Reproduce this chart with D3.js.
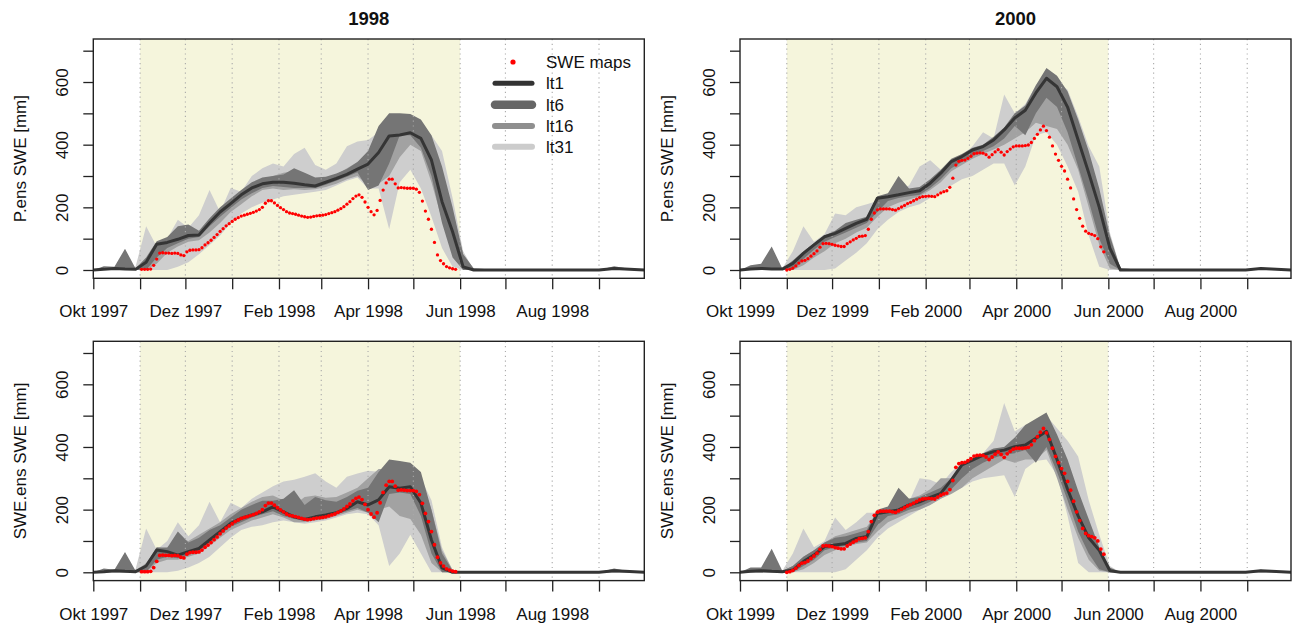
<!DOCTYPE html>
<html><head><meta charset="utf-8">
<script src="https://cdn.jsdelivr.net/npm/d3@7"></script>
<style>
body{margin:0;background:#fff;}
svg{display:block;}
text{font-family:"Liberation Sans",Arial,Helvetica,sans-serif;fill:#111;}
</style></head>
<body><svg id="chart" width="1293" height="625"></svg>
<script>
// ---------------- data ----------------
const yearTitles = ["1998", "2000"];
const seasonStart = ["1997-10-01", "1999-10-01"];
const seasonEnd = ["1998-10-01", "2000-09-30"];
const shadeStart = ["1997-11-01", "1999-11-01"];
const shadeEnd = ["1998-06-01", "2000-06-01"];
const monthNames = ["Jan","Feb","Mär","Apr","Mai","Jun","Jul","Aug","Sep","Okt","Nov","Dez"];
const yTicks = [0,100,200,300,400,500,600,700];
const yTickLabels = [0,200,400,600];
const rowLabels = ["P.ens SWE [mm]", "SWE.ens SWE [mm]"];
const legendLabels = ["SWE maps", "lt1", "lt6", "lt16", "lt31"];

// ensemble days after season start (1 Oct)
const ensDays = [0,7,14,21,28,35,42,49,56,63,70,77,84,91,98,105,112,119,126,133,140,147,154,161,168,175,182,189,196,203,210,217,224,231,238,245,252,273,304,335,345,352,365];

// P.ens 1998
const pens1998_lt1   = [0,2,5,3,2,25,82,88,98,110,112,150,185,212,240,262,275,280,280,277,272,268,280,292,305,322,338,375,428,431,438,420,351,218,122,10,0,0,0,0,5,3,0];
const pens1998_lt6hi = [0,12,10,68,5,40,92,105,140,145,125,165,200,228,255,280,295,300,305,325,310,295,298,308,322,345,380,460,500,500,498,480,430,330,200,50,5,0,0,0,12,6,0];
const pens1998_lt6lo = [0,0,0,0,0,0,40,70,85,100,105,140,170,198,225,245,262,268,265,262,262,262,272,285,298,312,255,270,340,430,430,390,300,150,40,0,0,0,0,0,0,0,0];
const pens1998_lt16hi= [0,5,5,20,5,30,85,100,125,130,120,160,195,225,250,272,290,300,310,315,300,290,295,305,325,345,370,430,470,465,470,460,420,320,190,50,5,0,0,0,6,3,0];
const pens1998_lt16lo= [0,0,0,0,0,0,20,55,75,90,95,120,150,185,210,235,255,260,255,258,255,258,265,275,290,300,270,275,300,360,400,380,280,160,60,0,0,0,0,0,0,0,0];
const pens1998_lt31hi= [0,5,8,15,10,140,75,100,160,135,175,255,185,262,250,300,325,340,330,370,390,335,320,340,395,410,415,440,460,465,470,465,430,380,230,60,0,0,0,0,3,2,0];
const pens1998_lt31lo= [0,0,0,0,0,0,0,0,10,25,50,80,110,150,180,200,215,225,235,240,245,250,255,270,285,295,260,260,130,280,320,260,170,70,10,0,0,0,0,0,0,0,0];

// SWE.ens 1998
const swe1998_lt1    = [0,2,5,3,2,20,71,66,55,66,76,103,130,156,172,183,193,209,193,177,169,177,183,190,204,225,215,231,273,268,273,221,103,14,0,0,0,0,0,0,5,3,0];
const swe1998_lt6hi  = [0,12,8,65,5,25,80,78,130,95,110,135,150,175,200,215,228,228,235,262,215,240,230,225,240,260,270,320,360,355,350,320,200,60,5,0,0,0,0,0,12,6,0];
const swe1998_lt6lo  = [0,0,0,0,0,0,40,50,45,55,70,95,120,145,160,175,185,195,180,170,165,170,178,185,195,205,190,160,250,255,250,180,60,0,0,0,0,0,0,0,0,0,0];
const swe1998_lt16hi = [0,5,5,15,5,30,75,80,110,100,120,140,160,185,205,225,240,245,230,215,240,245,238,240,255,270,300,330,330,320,325,300,200,70,8,0,0,0,0,0,6,3,0];
const swe1998_lt16lo = [0,0,0,0,0,0,30,40,40,50,60,85,110,135,150,165,175,185,175,160,160,165,170,180,190,200,190,200,210,180,170,120,30,0,0,0,0,0,0,0,0,0,0];
const swe1998_lt31hi = [0,5,8,15,10,140,72,100,160,115,150,225,160,222,205,235,255,275,290,295,305,316,290,270,305,315,324,321,300,300,320,300,230,80,5,0,0,0,0,0,3,2,0];
const swe1998_lt31lo = [0,0,0,0,0,0,0,0,5,15,30,50,80,110,135,145,150,160,165,160,155,160,165,175,185,190,185,150,20,60,120,60,0,0,0,0,0,0,0,0,0,0,0];

// P.ens 2000
const pens2000_lt1   = [0,3,5,3,3,21,53,80,106,117,133,149,162,229,234,240,247,253,277,309,346,362,383,394,415,447,485,510,565,612,585,520,415,310,200,70,0,0,0,0,5,3,0];
const pens2000_lt6hi = [0,15,20,75,5,30,60,85,110,125,150,160,170,235,245,300,260,265,290,320,355,370,390,400,425,455,500,525,590,645,620,570,480,380,260,110,5,0,0,0,8,5,0];
const pens2000_lt6lo = [0,0,0,0,0,0,35,65,90,105,120,135,150,185,220,230,235,240,262,290,325,345,365,380,395,420,460,430,500,550,520,440,330,220,100,20,0,0,0,0,0,0,0];
const pens2000_lt16hi= [0,8,5,20,5,25,55,80,105,120,140,155,165,225,240,255,255,262,285,315,350,365,385,398,420,445,480,500,540,600,600,560,470,370,250,100,5,0,0,0,5,3,0];
const pens2000_lt16lo= [0,0,0,0,0,0,15,40,60,85,100,120,135,170,200,215,225,235,255,280,315,335,355,370,385,400,420,440,470,460,450,400,320,200,80,5,0,0,0,0,0,0,0];
const pens2000_lt31hi= [0,10,5,10,5,60,140,90,115,180,175,200,210,220,245,255,270,330,350,320,340,365,395,440,420,560,500,530,590,630,600,575,490,395,330,120,5,0,0,0,3,2,0];
const pens2000_lt31lo= [0,0,0,0,0,0,0,0,0,5,30,55,85,130,160,185,200,210,230,250,270,290,300,320,340,340,270,330,430,440,400,330,250,110,10,0,0,0,0,0,0,0,0];

// SWE.ens 2000
const swe2000_lt1    = [0,3,5,3,2,7,34,55,82,87,92,108,114,188,193,199,215,225,239,252,295,343,358,374,385,390,401,406,428,450,360,265,180,110,70,5,0,0,0,0,5,3,0];
const swe2000_lt6hi  = [0,15,15,75,5,20,50,70,95,110,115,125,135,200,210,270,235,240,255,270,300,345,365,380,395,400,430,470,490,510,440,360,260,170,80,15,0,0,0,0,8,4,0];
const swe2000_lt6lo  = [0,0,0,0,0,0,20,40,70,80,85,95,100,150,180,185,200,210,225,240,265,300,330,350,365,375,380,390,350,400,320,230,130,60,10,0,0,0,0,0,0,0,0];
const swe2000_lt16hi = [0,5,5,15,5,20,50,70,95,115,125,135,145,190,205,225,235,245,265,300,300,330,355,375,390,400,420,460,460,470,400,330,240,150,70,10,0,0,0,0,5,3,0];
const swe2000_lt16lo = [0,0,0,0,0,0,10,30,55,70,80,90,95,130,160,175,190,200,215,235,250,270,300,320,340,360,350,360,360,390,300,200,110,40,5,0,0,0,0,0,0,0,0];
const swe2000_lt31hi = [0,10,5,10,5,60,140,80,100,175,135,160,190,190,190,200,225,300,295,280,320,350,340,380,420,540,450,470,480,500,460,420,370,230,120,20,0,0,0,0,3,2,0];
const swe2000_lt31lo = [0,0,0,0,0,0,0,0,0,0,10,40,70,110,140,160,180,200,215,235,255,270,290,300,305,310,240,330,355,360,310,180,30,0,0,0,0,0,0,0,0,0,0];

// SWE maps (observed), every 2nd day from start day
const sweMapsStartDay = [32, 31];
const sweMapsStep = 2;
const sweMaps1998 = [2,2,2,3,15,35,54,55,54,54,53,54,53,48,46,58,63,64,64,65,71,80,87,95,104,113,123,132,141,148,155,162,167,172,175,178,181,184,188,193,200,213,221,221,214,206,199,193,186,182,180,178,175,172,170,168,169,171,173,174,175,177,180,183,186,191,196,202,210,218,228,236,240,232,217,200,186,176,190,222,255,278,290,290,275,262,263,262,261,261,261,258,248,220,188,162,130,88,48,30,20,11,7,4,2];
const sweMaps2000 = [0,2,6,13,22,29,31,36,44,52,61,73,84,85,84,82,79,77,75,75,84,90,96,101,107,108,110,130,162,182,192,195,195,195,195,193,191,196,201,206,212,216,221,226,231,234,235,236,235,234,240,246,250,253,264,293,335,347,350,351,356,363,371,373,374,373,368,360,368,377,384,376,367,378,386,393,396,396,396,397,399,407,420,433,447,459,445,424,396,370,350,331,316,290,262,227,193,165,140,124,117,114,110,100,74,58];

// ---------------- layout ----------------
const colX = [[93.3, 644.3], [740, 1291]];
const rowY = [[39, 278.3], [341.3, 580.6]];
const yDom = [-26.5, 737.3];
const bandFill = {lt31: "#cecece", lt16: "#a2a2a2", lt6: "#757575"};
const lt1Color = "#353535";

const panels = [
  {row:0, col:0, lt1:pens1998_lt1, lt6:[pens1998_lt6lo,pens1998_lt6hi], lt16:[pens1998_lt16lo,pens1998_lt16hi], lt31:[pens1998_lt31lo,pens1998_lt31hi], obs:sweMaps1998, r:1.65},
  {row:0, col:1, lt1:pens2000_lt1, lt6:[pens2000_lt6lo,pens2000_lt6hi], lt16:[pens2000_lt16lo,pens2000_lt16hi], lt31:[pens2000_lt31lo,pens2000_lt31hi], obs:sweMaps2000, r:1.65},
  {row:1, col:0, lt1:swe1998_lt1, lt6:[swe1998_lt6lo,swe1998_lt6hi], lt16:[swe1998_lt16lo,swe1998_lt16hi], lt31:[swe1998_lt31lo,swe1998_lt31hi], obs:sweMaps1998, r:1.9},
  {row:1, col:1, lt1:swe2000_lt1, lt6:[swe2000_lt6lo,swe2000_lt6hi], lt16:[swe2000_lt16lo,swe2000_lt16hi], lt31:[swe2000_lt31lo,swe2000_lt31hi], obs:sweMaps2000, r:1.9}
];

const svg = d3.select("#chart");
const utc = s => new Date(s + "T00:00:00Z");
const defs = svg.append("defs");

panels.forEach((p, k) => {
  const [x0, x1] = colX[p.col];
  const [yt, yb] = rowY[p.row];
  const start = utc(seasonStart[p.col]), end = utc(seasonEnd[p.col]);
  const x = d3.scaleUtc().domain([start, end]).range([x0, x1]);
  const y = d3.scaleLinear().domain(yDom).range([yb, yt]);

  const clipId = "clip" + k;
  defs.append("clipPath").attr("id", clipId).append("rect")
    .attr("x", x0).attr("y", yt).attr("width", x1 - x0).attr("height", yb - yt);

  const g = svg.append("g");
  const pg = g.append("g").attr("clip-path", `url(#${clipId})`);

  // melt season shading
  const s0 = x(utc(shadeStart[p.col])), s1 = x(utc(shadeEnd[p.col]));
  pg.append("rect").attr("x", s0).attr("y", yt).attr("width", s1 - s0).attr("height", yb - yt)
    .attr("fill", "#f5f5dc");

  const dates = ensDays.map(d => d3.utcDay.offset(start, d));
  const band = (lo, hi) => d3.area()
    .x((_, i) => x(dates[i])).y0((_, i) => y(lo[i])).y1((_, i) => y(hi[i]));

  [["lt31", p.lt31], ["lt16", p.lt16], ["lt6", p.lt6]].forEach(([name, [lo, hi]]) => {
    pg.append("path").datum(lo).attr("d", band(lo, hi)).attr("fill", bandFill[name]);
  });

  // dotted month grid
  const months = d3.utcMonth.range(start, end);
  months.slice(1).forEach(m => {
    pg.append("line").attr("x1", x(m)).attr("x2", x(m)).attr("y1", yt).attr("y2", yb)
      .attr("stroke", "#a9a9a9").attr("stroke-width", 1.1).attr("stroke-dasharray", "1.2,3.6");
  });

  // lt1 line
  pg.append("path").datum(p.lt1)
    .attr("d", d3.line().x((_, i) => x(dates[i])).y(v => y(v)))
    .attr("fill", "none").attr("stroke", lt1Color).attr("stroke-width", 3)
    .attr("stroke-linejoin", "round").attr("stroke-linecap", "round");

  // SWE maps points
  const obsStart = sweMapsStartDay[p.col];
  pg.selectAll("circle.obs").data(p.obs).enter().append("circle")
    .attr("cx", (_, i) => x(d3.utcDay.offset(start, obsStart + i * sweMapsStep)))
    .attr("cy", v => y(v)).attr("r", p.r).attr("fill", "#ff0000");

  // box
  g.append("rect").attr("x", x0).attr("y", yt).attr("width", x1 - x0).attr("height", yb - yt)
    .attr("fill", "none").attr("stroke", "#222").attr("stroke-width", 1.4);

  // x axis
  const xa = g.append("g").attr("transform", `translate(0,${yb})`)
    .call(d3.axisBottom(x).tickValues(months).tickSize(11).tickSizeOuter(0)
      .tickFormat((d, i) => i % 2 === 0 ? monthNames[d.getUTCMonth()] + " " + d.getUTCFullYear() : ""));
  xa.select(".domain").remove();
  xa.selectAll(".tick line").attr("stroke", "#222").attr("stroke-width", 1.3);
  xa.selectAll(".tick text").attr("y", 27).attr("font-size", 17)
    .attr("font-family", '"Liberation Sans",Arial,sans-serif').attr("fill", "#111");

  // y axis
  const ya = g.append("g").attr("transform", `translate(${x0},0)`)
    .call(d3.axisLeft(y).tickValues(yTicks).tickSize(10).tickSizeOuter(0)
      .tickFormat(d => yTickLabels.includes(d) ? String(d) : ""));
  ya.select(".domain").remove();
  ya.selectAll(".tick line").attr("stroke", "#222").attr("stroke-width", 1.3);
  ya.selectAll(".tick text").attr("x", null).attr("dy", "0.35em")
    .attr("transform", "translate(-31,0) rotate(-90)").attr("text-anchor", "middle")
    .attr("font-size", 17).attr("font-family", '"Liberation Sans",Arial,sans-serif').attr("fill", "#111");

  // row label
  const labelX = p.col === 0 ? 20 : x0 - 73;
  svg.append("text").attr("transform", `translate(${labelX},${(yt + yb) / 2}) rotate(-90)`)
    .attr("dy", "0.35em").attr("text-anchor", "middle").attr("font-size", 17)
    .text(rowLabels[p.row]);

  // title
  if (p.row === 0) {
    svg.append("text").attr("x", (x0 + x1) / 2).attr("y", 25).attr("text-anchor", "middle")
      .attr("font-size", 18.5).attr("font-weight", "bold").text(yearTitles[p.col]);
  }
});

// legend (top-left panel)
const lg = svg.append("g");
lg.append("circle").attr("cx", 513).attr("cy", 62).attr("r", 2.6).attr("fill", "#ff0000");
lg.append("text").attr("x", 546).attr("y", 62).attr("dy", "0.35em").attr("font-size", 17).text(legendLabels[0]);
const legendStyles = [["#333333", 5], ["#666666", 8.5], ["#8f8f8f", 6], ["#cccccc", 6]];
[83.3, 104.7, 126, 146.7].forEach((ly, i) => {
  lg.append("line").attr("x1", 495).attr("x2", 532).attr("y1", ly).attr("y2", ly)
    .attr("stroke", legendStyles[i][0]).attr("stroke-width", legendStyles[i][1]).attr("stroke-linecap", "round");
  lg.append("text").attr("x", 546).attr("y", ly).attr("dy", "0.35em").attr("font-size", 17).text(legendLabels[i + 1]);
});
</script>
</body></html>
